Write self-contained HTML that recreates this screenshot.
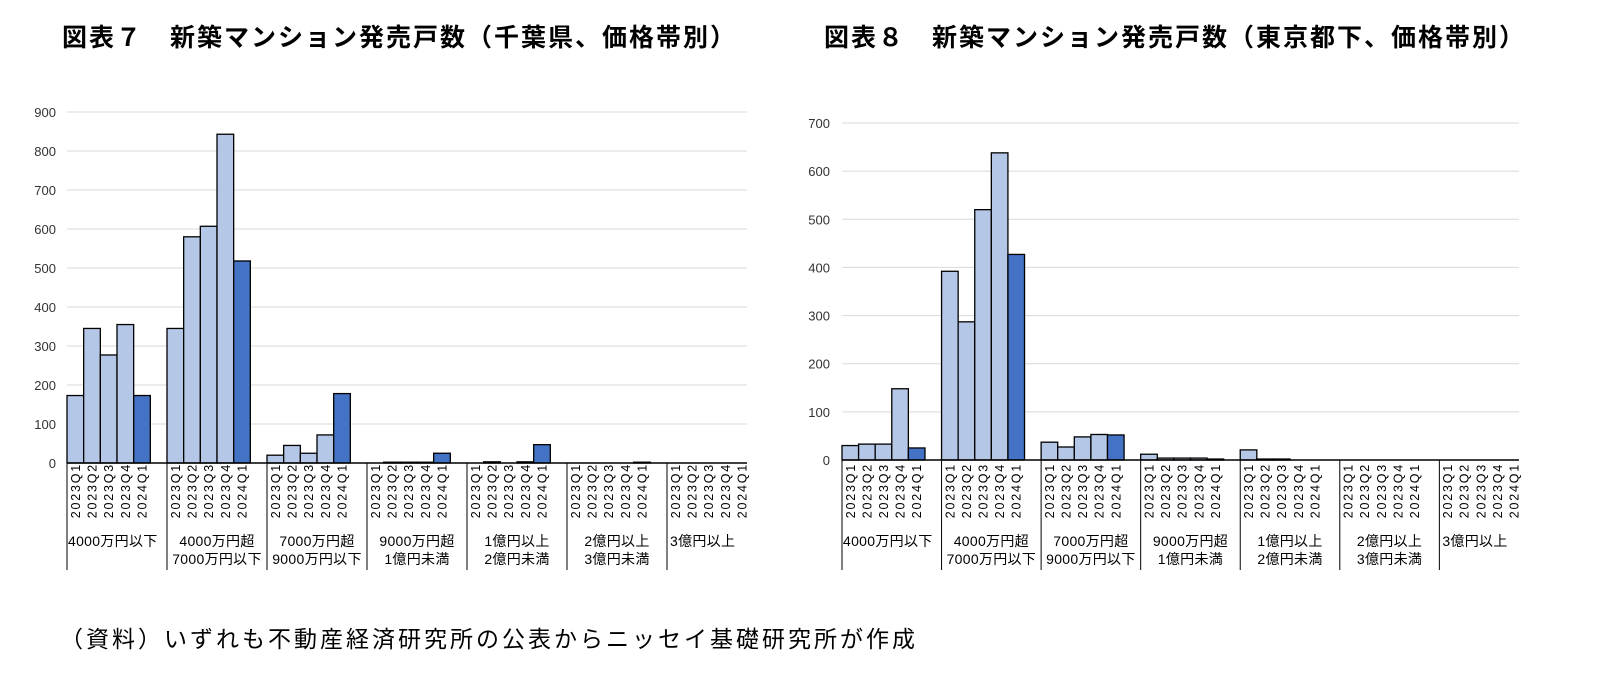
<!DOCTYPE html>
<html><head><meta charset="utf-8"><style>
body{margin:0;background:#fff;width:1598px;height:689px;overflow:hidden;font-family:"Liberation Sans","Noto Sans CJK JP",sans-serif}
.t{position:absolute;font-weight:bold;font-size:25px;top:18px;white-space:nowrap;color:#000;letter-spacing:2px}
</style></head><body>
<div class="t" style="left:62px">図表７　新築マンション発売戸数（千葉県、価格帯別）</div>
<div class="t" style="left:824px">図表８　新築マンション発売戸数（東京都下、価格帯別）</div>
<div style="position:absolute;left:60px;top:620px;font-size:23px;letter-spacing:3px;white-space:nowrap">（資料）いずれも不動産経済研究所の公表からニッセイ基礎研究所が作成</div>
<svg id="svg" width="1598" height="689" style="position:absolute;left:0;top:0"></svg>
<script>
const groups=[["4000万円以下",""],["4000万円超","7000万円以下"],["7000万円超","9000万円以下"],["9000万円超","1億円未満"],["1億円以上","2億円未満"],["2億円以上","3億円未満"],["3億円以上",""]];
const quarters=["2023Q1","2023Q2","2023Q3","2023Q4","2024Q1"];
const chibaValues=[[173,345,277,355,173],[345,580,607,843,518],[20,45,25,72,178],[0,2,2,2,25],[0,3,0,3,47],[0,0,0,0,2],[0,0,0,0,0]];
const tokyoValues=[[30,33,33,148,25],[392,287,520,638,427],[37,27,48,53,52],[12,4,4,4,2],[21,2,2,0,0],[0,0,0,0,0],[0,0,0,0,0]];
const chibaTicks=[0,100,200,300,400,500,600,700,800,900];
const tokyoTicks=[0,100,200,300,400,500,600,700];
const NS="http://www.w3.org/2000/svg";
const svg=document.getElementById('svg');
function mk(tag,attrs,parent){const e=document.createElementNS(NS,tag);for(const k in attrs)e.setAttribute(k,attrs[k]);(parent||svg).appendChild(e);return e;}
function chart(name,x0,x1,y0,yTop,maxV,ticks,vals,labelX){
  const g=mk('g',{});
  
  
  const y=v=>y0-(y0-yTop)*v/maxV;
  const gw=(x1-x0)/6.8, sw=gw/6;
  ticks.forEach(t=>{
    if(t>0){const l=mk('line',{x1:x0,x2:x1,y1:y(t),y2:y(t),stroke:'#d9d9d9','stroke-width':1},g);
    
    }
    const tx=mk('text',{x:labelX,y:y(t)+5,'text-anchor':'end','font-size':13,fill:'#333'},g);tx.textContent=t;
    
    
  });
  vals.forEach((arr,gi)=>{
    const gx=x0+gi*gw;
    arr.forEach((v,qi)=>{
      const r=mk('rect',{x:gx+qi*sw,y:y(v),width:sw,height:y0-y(v),fill:qi==4?'#4472c4':'#b4c7e7',stroke:'#000','stroke-width':1.3},g);
      
      
      const cx=gx+qi*sw+sw/2+4.5;
      const t=mk('text',{x:cx,y:463,'font-size':12.5,transform:`rotate(-90 ${cx} 463)`,'text-anchor':'end','letter-spacing':'1.8'},g);t.textContent=quarters[qi];
      
      
    });
    const lx=gi==groups.length-1?gx+3:gx+gw/2;
    const anc=gi==groups.length-1?'start':'middle';
    groups[gi].forEach((s,li)=>{if(!s)return;
      const t=mk('text',{x:gi==0&&li==0?gx+1:lx,y:546+li*18,'font-size':14,'letter-spacing':'0.3','text-anchor':gi==0&&li==0?'start':anc},g);t.textContent=s;
      
      });
    const sx=gi==0?x0:gx;
    const l=mk('line',{x1:sx,x2:sx,y1:y0,y2:570,stroke:'#000','stroke-width':1},g);
    
    
  });
  const a=mk('line',{x1:x0,x2:x1,y1:y0,y2:y0,stroke:'#000','stroke-width':1.5},g);
  
  
}
chart('chart-chiba',67,747,463,112,900,chibaTicks,chibaValues,56);
chart('chart-tokyo',842,1519,460,123,700,tokyoTicks,tokyoValues,830);
</script>
</body></html>
